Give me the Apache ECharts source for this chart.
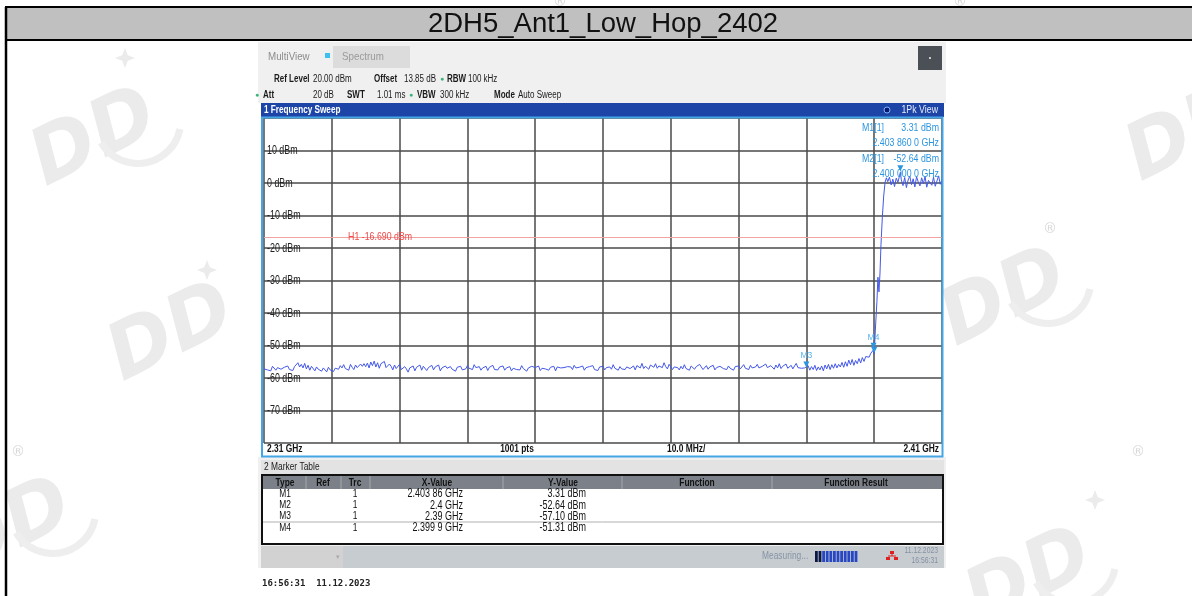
<!DOCTYPE html>
<html>
<head>
<meta charset="utf-8">
<script src="https://cdn.jsdelivr.net/npm/echarts@6/dist/echarts.min.js"></script>
<style>
  html, body { margin: 0; padding: 0; background: #fff; }
  #chart { width: 1192px; height: 596px; }
</style>
</head>
<body>
<div id="chart"></div>
<script>
// ---- Sweep settings ----
const titleText = '2DH5_Ant1_Low_Hop_2402';
const sweepStartMHz = 2310;
const sweepStopMHz = 2410;
const floorStepMHz = 0.25;
const levelTicks = [10, 0, -10, -20, -30, -40, -50, -60, -70];
const h1Level = -16.69;

// Noise floor, 2310.00 .. 2399.00 MHz (dBm), one row per 5 MHz
const floorLevels = [
  -57.2,-56.6,-57.5,-56.9,-57.8,-56.4,-57.0,-57.6,-56.8,-56.2,-57.3,-57.9,-56.7,-57.1,-56.3,-57.4,-56.9,-57.7,-56.5,-55.9,
  -55.3,-56.6,-55.8,-56.9,-55.5,-57.2,-56.1,-57.6,-56.4,-57.0,-57.8,-56.6,-57.3,-56.8,-57.9,-56.9,-57.4,-58.1,-56.7,-57.5,
  -57.2,-58.0,-57.0,-56.4,-57.3,-56.2,-56.9,-55.9,-57.1,-56.5,-57.6,-55.8,-56.7,-57.4,-56.0,-56.8,-57.3,-55.7,-56.4,-55.6,
  -56.5,-55.4,-56.9,-55.1,-56.2,-54.8,-56.6,-55.3,-57.0,-55.6,-56.1,-54.9,-56.8,-57.3,-55.7,-56.4,-57.5,-56.0,-57.1,-56.6,
  -55.8,-57.4,-57.9,-56.5,-57.2,-58.2,-56.9,-57.5,-56.3,-57.8,-56.7,-57.1,-56.0,-57.6,-56.4,-57.0,-57.7,-56.8,-57.3,-56.1,
  -57.5,-56.6,-57.2,-56.0,-57.8,-56.9,-57.4,-56.3,-57.0,-57.6,-56.5,-57.3,-56.8,-57.9,-56.7,-57.1,-56.4,-57.5,-56.9,-57.2,
  -56.2,-57.0,-56.6,-57.4,-55.9,-56.8,-57.3,-56.5,-57.6,-56.9,-57.2,-56.4,-57.7,-56.7,-57.0,-56.1,-57.4,-56.8,-57.5,-56.6,
  -57.1,-56.3,-57.6,-56.9,-57.3,-56.5,-57.8,-57.0,-56.6,-57.4,-56.8,-57.5,-56.2,-57.1,-56.7,-57.9,-56.9,-57.3,-56.4,-57.0,
  -56.8,-57.4,-56.3,-57.7,-57.0,-56.5,-57.2,-56.9,-57.6,-56.7,-57.3,-56.4,-57.8,-56.6,-57.1,-56.9,-57.5,-56.8,-57.2,-56.5,
  -57.0,-56.6,-57.4,-56.1,-56.9,-57.5,-56.7,-57.1,-56.3,-57.6,-56.8,-57.3,-56.5,-57.0,-56.2,-57.4,-56.9,-57.7,-56.6,-57.2,
  -56.4,-57.5,-56.8,-57.1,-56.6,-57.3,-55.9,-57.0,-56.7,-57.6,-56.5,-57.2,-56.9,-57.4,-56.6,-56.0,-57.1,-56.8,-56.3,-57.5,
  -56.2,-55.7,-56.9,-55.5,-57.1,-56.4,-55.8,-57.3,-56.0,-55.4,-56.7,-55.6,-57.0,-56.3,-55.9,-56.8,-55.3,-56.5,-57.2,-55.8,
  -56.1,-57.4,-56.6,-57.0,-56.8,-57.5,-56.4,-57.2,-55.9,-57.1,-56.7,-57.6,-56.3,-56.9,-57.3,-56.5,-57.0,-55.8,-56.6,-57.4,
  -56.9,-56.2,-57.3,-56.6,-57.0,-56.1,-57.5,-56.8,-57.2,-56.4,-55.9,-57.1,-56.6,-57.4,-56.3,-57.0,-56.7,-57.6,-56.5,-56.9,
  -56.3,-57.2,-56.7,-55.9,-57.0,-56.5,-57.4,-56.1,-56.9,-57.3,-56.6,-55.8,-56.9,-57.2,-56.4,-57.0,-55.7,-56.8,-57.1,-56.2,
  -56.6,-57.3,-56.0,-56.9,-55.6,-57.1,-56.4,-56.8,-55.7,-57.0,-56.5,-56.1,-57.2,-56.3,-55.5,-56.8,-56.2,-57.0,-56.4,-56.9,
  -57.1,-56.2,-57.6,-56.5,-57.4,-56.1,-57.7,-56.6,-57.5,-56.3,-57.8,-56.0,-57.2,-55.8,-57.4,-55.9,-57.0,-55.6,-56.9,-55.8,
  -56.6,-55.2,-56.7,-55.0,-56.4,-54.5,-55.9,-54.3,-56.1,-54.6,-55.6,-54.0,-55.4,-53.7,-54.9,-53.4,-53.0
];

// Band edge and in-band plateau (MHz / dBm)
const edgeFreqs = [
  2399.25, 2399.5, 2399.75, 2399.9, 2400.0, 2400.2, 2400.4, 2400.55, 2400.7, 2400.85,
  2401.0, 2401.2, 2401.4, 2401.6, 2401.8,
  2402.0, 2402.25, 2402.5, 2402.75, 2403.0, 2403.25, 2403.5, 2403.75, 2403.86,
  2404.0, 2404.25, 2404.5, 2404.75, 2405.0, 2405.25, 2405.5, 2405.75, 2406.0, 2406.25,
  2406.5, 2406.75, 2407.0, 2407.25, 2407.5, 2407.75, 2408.0, 2408.25, 2408.5, 2408.75,
  2409.0, 2409.25, 2409.5, 2409.75, 2410.0
];
const edgeLevels = [
  -53.6, -52.4, -51.9, -51.31, -52.64, -44.0, -36.5, -29.0, -33.5, -28.0,
  -19.0, -10.5, -4.0, 0.2, 1.6,
  0.4, 1.8, -0.6, 1.2, -1.1, 1.5, 0.2, 2.4, 3.31,
  1.0, -0.8, 1.7, -1.4, 0.9, 2.1, -0.5, 1.3, -1.2, 1.9,
  0.3, -0.9, 1.6, -0.2, 2.0, -1.3, 0.8, 1.4, -0.7, 1.8,
  -1.0, 0.6, 2.2, -0.4, 1.1
];

// Markers
const markerNames = ['M1', 'M2', 'M3', 'M4'];
const markerFreqsGHz = [2.40386, 2.4, 2.39, 2.3999];
const markerFreqText = ['2.403 86 GHz', '2.4 GHz', '2.39 GHz', '2.399 9 GHz'];
const markerLevels = [3.31, -52.64, -57.10, -51.31];
const markerShowName = [false, false, true, true];

// ---- Build trace ----
const traceData = [];
floorLevels.forEach((v, i) => traceData.push([sweepStartMHz + i * floorStepMHz, v]));
edgeFreqs.forEach((f, i) => traceData.push([f, edgeLevels[i]]));

const UI = "'Liberation Sans', Arial, sans-serif";
const MARK_BLUE = '#2b95e0';

// ---- Graphic helpers ----
function box(x, y, w, h, fill, z, stroke, lw) {
  return { type: 'rect', z: z || 1, shape: { x, y, width: w, height: h },
           style: { fill: fill || 'none', stroke: stroke || null, lineWidth: lw || 0 } };
}
// condensed UI text: horizontal squeeze about the anchor point
function txt(x, y, text, size, fill, align, opt) {
  opt = opt || {};
  return { type: 'text', z: opt.z == null ? 20 : opt.z, x, y,
           scaleX: opt.sx == null ? 0.8 : opt.sx, rotation: opt.rot || 0,
           style: { x: 0, y: 0, text, fill,
                    font: (opt.bold ? 'bold ' : '') + (opt.italic ? 'italic ' : '') + size + 'px ' + (opt.family || UI),
                    textAlign: align || 'left', textVerticalAlign: 'middle', verticalAlign: 'middle' } };
}
function seg(x1, y1, x2, y2, color, w, z) {
  return { type: 'line', z: z || 5, shape: { x1, y1, x2, y2 },
           style: { stroke: color, lineWidth: w || 1 } };
}
function logo(cx, cy, size, withArc) {
  const parts = [
    txt(cx, cy, 'DD', size, '#ebebeb', 'center',
        { z: 0, sx: 1, rot: 0.45, bold: true, italic: true, family: '"DejaVu Sans"' })
  ];
  if (withArc) {
    parts.push({ type: 'arc', z: 0, shape: { cx: cx + size * 0.55, cy: cy - size * 0.25, r: size * 0.55,
      startAngle: 0.2, endAngle: 2.6 }, style: { stroke: '#eeeeee', lineWidth: size * 0.09, fill: 'none' } });
  }
  return parts;
}
function star(cx, cy, r) {
  const k = r * 0.28;
  return { type: 'polygon', z: 0, shape: { points: [[cx, cy - r], [cx + k, cy - k], [cx + r, cy], [cx + k, cy + k],
    [cx, cy + r], [cx - k, cy + k], [cx - r, cy], [cx - k, cy - k]] }, style: { fill: '#ebebeb' } };
}

const g = [];
// background logos
[[95, 140, 78, true], [1190, 135, 78, true], [172, 335, 78, false], [1005, 300, 78, true], [10, 530, 78, true], [1030, 580, 78, true]]
  .forEach(p => g.push(...logo(p[0], p[1], p[2], p[3])));
[[125, 58, 10], [207, 270, 10], [1095, 500, 10]].forEach(p => g.push(star(p[0], p[1], p[2])));
[[560, 2], [960, 2], [1050, 229], [18, 452], [1138, 452]].forEach(p =>
  g.push(txt(p[0], p[1], '®', 14, '#d9d9d9', 'center', { z: 0, sx: 1, family: '"DejaVu Sans"' })));

// outer frame and title bar
g.push(box(6, 7, 1200, 33, '#c0c0c0', 3, '#000', 2));
g.push(seg(6, 7, 6, 600, '#000', 2.5, 4));
g.push(txt(603, 24, titleText, 27.5, '#111', 'center', { sx: 1 }));

// instrument header
g.push(box(258, 42, 688, 61, '#f0f0f0', 2));
g.push(txt(268, 57, 'MultiView', 11.5, '#8c8c8c', 'left', { sx: 0.85 }));
g.push(box(325, 53, 5, 5, '#3cc0f0', 6));
g.push(box(333, 46, 77, 22, '#dcdcdc', 3));
g.push(txt(342, 57, 'Spectrum', 11.5, '#9a9a9a', 'left', { sx: 0.85 }));
g.push(box(918, 46, 24, 24, '#4b5056', 3));
g.push(box(929, 57, 2, 2, '#c8c8c8', 6));

g.push(txt(274, 79, 'Ref Level', 10, '#1a1a1a', 'left', { bold: true }));
g.push(txt(313, 79, '20.00 dBm', 10, '#1a1a1a'));
g.push(txt(374, 79, 'Offset', 10, '#1a1a1a', 'left', { bold: true }));
g.push(txt(404, 79, '13.85 dB', 10, '#1a1a1a'));
g.push(txt(442, 79, '●', 7, '#3bb37a', 'center', { sx: 1 }));
g.push(txt(447, 79, 'RBW', 10, '#1a1a1a', 'left', { bold: true }));
g.push(txt(468, 79, '100 kHz', 10, '#1a1a1a'));

g.push(txt(257, 95, '●', 7, '#3bb37a', 'center', { sx: 1 }));
g.push(txt(263, 95, 'Att', 10, '#1a1a1a', 'left', { bold: true }));
g.push(txt(313, 95, '20 dB', 10, '#1a1a1a'));
g.push(txt(347, 95, 'SWT', 10, '#1a1a1a', 'left', { bold: true }));
g.push(txt(377, 95, '1.01 ms', 10, '#1a1a1a'));
g.push(txt(411, 95, '●', 7, '#3bb37a', 'center', { sx: 1 }));
g.push(txt(417, 95, 'VBW', 10, '#1a1a1a', 'left', { bold: true }));
g.push(txt(440, 95, '300 kHz', 10, '#1a1a1a'));
g.push(txt(494, 95, 'Mode', 10, '#1a1a1a', 'left', { bold: true }));
g.push(txt(518, 95, 'Auto Sweep', 10, '#1a1a1a'));

// sweep window title bar
g.push(box(261, 103, 683, 14, '#1d45a8', 3));
g.push(txt(264, 110, '1 Frequency Sweep', 10.5, '#ffffff', 'left', { bold: true, sx: 0.78 }));
g.push({ type: 'circle', z: 6, shape: { cx: 887, cy: 110, r: 3 }, style: { fill: '#0a1a70', stroke: '#7fb0ff', lineWidth: 1 } });
g.push(txt(938, 110, '1Pk View', 11, '#e8ecf8', 'right'));

// sweep window frame + footer labels
g.push(box(262, 117.5, 680.5, 339, 'none', 10, '#45a6e6', 2));
g.push(txt(267, 449, '2.31 GHz', 10.5, '#111', 'left', { bold: true }));
g.push(txt(517, 449, '1001 pts', 10.5, '#111', 'center', { bold: true }));
g.push(txt(667, 449, '10.0 MHz/', 10.5, '#111', 'left', { bold: true }));
g.push(txt(939, 449, '2.41 GHz', 10.5, '#111', 'right', { bold: true }));

// marker readout in the sweep window
g.push(txt(862, 128, 'M1[1]', 11, MARK_BLUE));
g.push(txt(939, 128, '3.31 dBm', 11, MARK_BLUE, 'right'));
g.push(txt(939, 143, '2.403 860 0 GHz', 11, MARK_BLUE, 'right'));
g.push(txt(862, 159, 'M2[1]', 11, MARK_BLUE));
g.push(txt(939, 159, '-52.64 dBm', 11, MARK_BLUE, 'right'));
g.push(txt(939, 174, '2.400 000 0 GHz', 11, MARK_BLUE, 'right'));

// marker table
g.push(box(258, 457, 688, 111, '#f0f0f0', 2));
g.push(box(261, 460, 683, 14, '#e3e3e3', 3));
g.push(txt(264, 467, '2 Marker Table', 10.5, '#1a1a1a'));
g.push(box(262, 475, 681, 69, '#ffffff', 3, '#111', 2));
g.push(box(263, 476, 679, 13, '#7c8189', 4));
[306, 341, 370, 503, 622, 772].forEach(x => g.push(seg(x, 476, x, 489, '#a4a8ae', 1, 6)));
const headCols = [[285, 'Type'], [323, 'Ref'], [355, 'Trc'], [437, 'X-Value'], [563, 'Y-Value'], [697, 'Function'], [856, 'Function Result']];
headCols.forEach(c => g.push(txt(c[0], 483, c[1], 10.5, '#111', 'center', { bold: true })));
g.push(seg(263, 522, 942, 522, '#b0b0b0', 1, 6));
markerNames.forEach((m, i) => {
  const y = 494 + i * 11.3;
  g.push(txt(285, y, m, 10.5, '#111', 'center'));
  g.push(txt(355, y, '1', 10.5, '#111', 'center'));
  g.push(txt(463, y, markerFreqText[i], 12.5, '#111', 'right', { sx: 0.72 }));
  g.push(txt(586, y, markerLevels[i].toFixed(2) + ' dBm', 12.5, '#111', 'right', { sx: 0.72 }));
});

// status bar
g.push(box(261, 546, 683, 22, '#c7ccd1', 3));
g.push(box(261, 546, 82, 22, '#d2d2d2', 4));
g.push(txt(338, 557, '▾', 7, '#aaa', 'center', { sx: 1 }));
g.push(txt(762, 556, 'Measuring...', 10.5, '#8593a3'));
for (let i = 0; i < 12; i++) {
  g.push(box(815 + i * 3.6, 551, 2.8, 11, i < 2 ? '#0b1846' : '#2748c2', 6));
}
g.push(box(890, 551, 4, 3, '#e02020', 6));
g.push(box(886, 557, 4, 3, '#e02020', 6));
g.push(box(894, 557, 4, 3, '#e02020', 6));
g.push(seg(892, 554, 892, 556, '#e02020', 1, 6));
g.push(seg(888, 556, 896, 556, '#e02020', 1, 6));
g.push(txt(938, 551, '11.12.2023', 8.5, '#8590a0', 'right'));
g.push(txt(938, 561, '16:56:31', 8.5, '#8590a0', 'right'));

// time stamp under the screen
g.push(txt(262, 584, '16:56:31  11.12.2023', 9, '#222', 'left',
           { bold: true, sx: 1, family: '"DejaVu Sans Mono", monospace' }));

// ---- Chart ----
const chart = echarts.init(document.getElementById('chart'), null, { renderer: 'canvas' });
chart.setOption({
  animation: false,
  backgroundColor: '#ffffff',
  grid: { left: 264, top: 118, width: 678, height: 325, show: false },
  xAxis: {
    type: 'value', min: sweepStartMHz, max: sweepStopMHz, interval: 10,
    axisLine: { show: false }, axisTick: { show: false }, axisLabel: { show: false },
    splitLine: { show: true, lineStyle: { color: '#4a4a4a', width: 1.5 } }
  },
  yAxis: {
    type: 'value', min: -80, max: 20, interval: 10,
    axisLine: { show: false }, axisTick: { show: false }, axisLabel: { show: false },
    splitLine: { show: true, lineStyle: { color: '#4a4a4a', width: 1.5 } }
  },
  series: [{
    type: 'line',
    data: traceData,
    showSymbol: false,
    z: 3,
    lineStyle: { color: '#4458e8', width: 1 },
    markLine: {
      silent: true, symbol: 'none',
      lineStyle: { color: '#f3a2a2', width: 1, type: 'solid' },
      label: { show: false },
      data: [{ yAxis: h1Level }]
    },
    markPoint: {
      silent: true,
      data: markerNames.map((m, i) => ({
        coord: [markerFreqsGHz[i] * 1000, markerLevels[i]],
        symbol: 'triangle', symbolRotate: 180, symbolSize: [6, 6], symbolOffset: [0, -4],
        itemStyle: { color: MARK_BLUE },
        label: { show: markerShowName[i], position: 'top', distance: 1, formatter: m,
                 color: '#56b2ec', fontSize: 8.5, fontFamily: UI }
      }))
    }
  }]
});

// level labels and the H1 readout, placed through the axis scale
levelTicks.forEach(v => {
  const py = chart.convertToPixel({ yAxisIndex: 0 }, v);
  g.push(txt(267, py + 0.5, v + ' dBm', 12, '#222', 'left', { sx: 0.74 }));
});
const h1Pos = chart.convertToPixel({ gridIndex: 0 }, [2322.4, h1Level]);
g.push(txt(h1Pos[0], h1Pos[1], 'H1 ' + h1Level.toFixed(3) + ' dBm', 11, '#f04848', 'left'));

chart.setOption({ graphic: { elements: g } });
</script>
</body>
</html>
